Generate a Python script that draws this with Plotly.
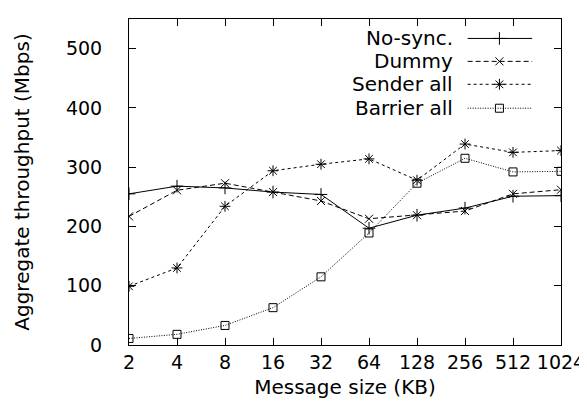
import plotly.graph_objects as go

sizes_kb = [2, 4, 8, 16, 32, 64, 128, 256, 512, 1024]
tick_labels = ["2", "4", "8", "16", "32", "64", "128", "256", "512", "1024"]

no_sync = [255, 268, 265, 258, 254, 197, 219, 231, 251, 252]
dummy = [217, 261, 273, 258, 243, 213, 219, 226, 255, 262]
sender_all = [99, 130, 234, 294, 305, 314, 278, 339, 325, 328]
barrier_all = [11, 18, 33, 63, 115, 189, 273, 315, 292, 293]

series_names = ["No-sync.", "Dummy", "Sender all", "Barrier all"]
series_values = [no_sync, dummy, sender_all, barrier_all]
dashes = ["solid", "5px,3px", "3px,3px", "1px,1.5px"]
symbols = ["cross-thin-open", "x-thin-open", "asterisk-open", "square-open"]
msizes = [9, 8, 9, 8]

FONT = "DejaVu Sans"
W, H = 587, 412
L, R, T, B = 121, 556, 10, 337

fig = go.Figure()
for name, vals, d, s, ms in zip(series_names, series_values, dashes, symbols, msizes):
    fig.add_trace(go.Scatter(
        x=sizes_kb, y=vals, name=name, mode="lines+markers",
        line=dict(color="black", width=1, dash=d),
        marker=dict(symbol=s, size=ms, color="black", line=dict(color="black", width=1)),
        showlegend=False, xaxis="x", yaxis="y"))

# custom legend (text left of sample, gnuplot style) drawn on a pixel overlay axis
leg_rows = [29.5, 52.5, 75.5, 99.5]
leg_text_x = 449
leg_line = (462, 527)
leg_mark_x = 494
for name, d, s, ms, yy in zip(series_names, dashes, symbols, msizes, leg_rows):
    fig.add_trace(go.Scatter(
        x=[leg_line[0], leg_line[1]], y=[yy, yy], mode="lines",
        line=dict(color="black", width=1, dash=d), showlegend=False,
        hoverinfo="skip", xaxis="x2", yaxis="y2"))
    fig.add_trace(go.Scatter(
        x=[leg_mark_x], y=[yy], mode="markers",
        marker=dict(symbol=s, size=ms, color="black", line=dict(color="black", width=1)),
        showlegend=False, hoverinfo="skip", xaxis="x2", yaxis="y2"))
    fig.add_annotation(x=leg_text_x, y=yy, xref="x2", yref="y2", text=name,
                       showarrow=False, xanchor="right", yanchor="middle",
                       font=dict(family=FONT, size=20, color="black"))

axis_common = dict(showline=True, linecolor="black", linewidth=1, mirror="ticks",
                   ticks="inside", ticklen=7, tickcolor="black", tickwidth=1,
                   showgrid=False, zeroline=False,
                   tickfont=dict(family=FONT, size=19, color="black"))

fig.update_layout(
    width=W, height=H,
    margin=dict(l=L, r=W - R, t=T, b=H - B, pad=0),
    paper_bgcolor="white", plot_bgcolor="white",
    font=dict(family=FONT, color="black"),
    xaxis=dict(type="log", range=[0.30103, 3.0103], tickvals=sizes_kb, ticktext=tick_labels,
               title=dict(text="Message size (KB)", font=dict(family=FONT, size=20), standoff=8),
               **axis_common),
    yaxis=dict(range=[0, 550], tickvals=[0, 100, 200, 300, 400, 500],
               ticklabelstandoff=22,
               title=dict(text="Aggregate throughput (Mbps)", font=dict(family=FONT, size=20), standoff=30),
               **axis_common),
    xaxis2=dict(range=[L, R], overlaying="x", visible=False, anchor="y2"),
    yaxis2=dict(range=[B, T], overlaying="y", visible=False, anchor="x2"),
)

fig.write_html("out.html")
